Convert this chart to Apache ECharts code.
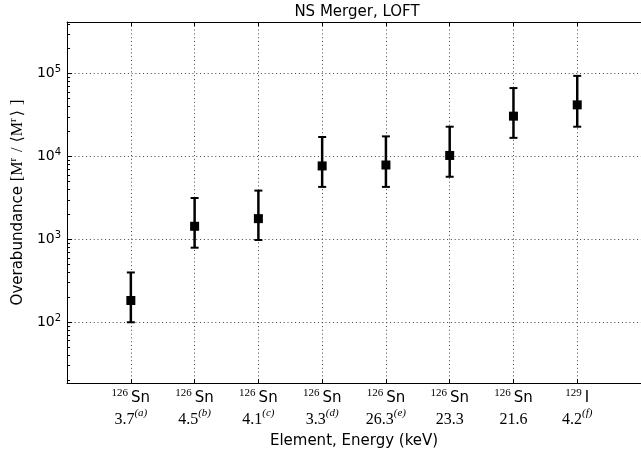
<!DOCTYPE html>
<html>
<head>
<meta charset="utf-8">
<script src="https://cdn.jsdelivr.net/npm/echarts@6/dist/echarts.min.js"></script>
<style>
html,body{margin:0;padding:0;background:#fff;}
#chart{width:641px;height:459px;}
</style>
</head>
<body>
<div id="chart"></div>
<script>
// ---- data ----
const positions = [1, 2, 3, 4, 5, 6, 7, 8];
const isotopes = ['126', '126', '126', '126', '126', '126', '126', '129'];
const elements = ['Sn', 'Sn', 'Sn', 'Sn', 'Sn', 'Sn', 'Sn', 'I'];
const energies = ['3.7', '4.5', '4.1', '3.3', '26.3', '23.3', '21.6', '4.2'];
const notes = ['(a)', '(b)', '(c)', '(d)', '(e)', '', '', '(f)'];
const values = [183, 1440, 1780, 7700, 7900, 10300, 30700, 42000];
const lowerErr = [100, 794, 984, 4300, 4300, 5700, 16800, 22900];
const upperErr = [399, 3160, 3880, 17200, 17500, 22900, 67000, 94000];
const yMajorTicks = [100, 1000, 10000, 100000];
const yMinorTicks = [];
[10, 100, 1000, 10000, 100000].forEach(function (d) {
  for (let k = 2; k <= 9; k++) yMinorTicks.push(k * d);
});

const SANS = 'DejaVu Sans';
const SERIF = 'Liberation Serif';

const pointData = positions.map((p, i) => [p, values[i]]);
const errData = positions.map((p, i) => [p, lowerErr[i], upperErr[i]]);

const chart = echarts.init(document.getElementById('chart'), null, {renderer: 'canvas'});
const yMin = 18.5, yMax = 420000;
const gridDash = {color: '#444', width: 1, type: [1, 2.8]};

const option = {
  animation: false,
  backgroundColor: '#fff',
  title: {
    text: 'NS Merger, LOFT',
    left: 352,
    textAlign: 'center',
    top: 0,
    textStyle: {fontFamily: SANS, fontSize: 15, fontWeight: 'normal', color: '#000'}
  },
  grid: {left: 65, top: 22, width: 579, height: 361, containLabel: false},
  xAxis: [{
    type: 'value',
    min: 0, max: 9, interval: 1,
    position: 'bottom',
    name: 'Element, Energy (keV)',
    nameLocation: 'middle',
    nameGap: 51,
    nameTextStyle: {fontFamily: SANS, fontSize: 15, color: '#000'},
    axisLine: {show: true, lineStyle: {color: '#000', width: 1}},
    axisTick: {show: true, inside: true, length: 4, customValues: positions, lineStyle: {color: '#000'}},
    splitLine: {show: true, lineStyle: gridDash},
    axisLabel: {
      customValues: positions,
      margin: 5,
      formatter: function (v) {
        const i = positions.indexOf(Math.round(v));
        if (i < 0) return '';
        let s = '{iso|' + isotopes[i] + '}{el|' + elements[i] + '}\n{num|' + energies[i] + '}';
        if (notes[i]) s += '{note|' + notes[i] + '}';
        return s;
      },
      rich: {
        iso: {fontFamily: SERIF, fontSize: 11, color: '#000', verticalAlign: 'top', lineHeight: 20, padding: [0, 3, 0, 0]},
        el: {fontFamily: SANS, fontSize: 15, color: '#000', lineHeight: 20},
        num: {fontFamily: SERIF, fontSize: 16, color: '#000', lineHeight: 23},
        note: {fontFamily: SERIF, fontStyle: 'italic', fontSize: 11, color: '#000', verticalAlign: 'top', lineHeight: 23}
      }
    }
  }, {
    type: 'value',
    min: 0, max: 9, interval: 1,
    position: 'top',
    axisLine: {show: true, lineStyle: {color: '#000', width: 1}},
    axisTick: {show: true, inside: true, length: 4, customValues: positions, lineStyle: {color: '#000'}},
    splitLine: {show: false},
    axisLabel: {show: false}
  }],
  yAxis: [{
    type: 'log',
    logBase: 10,
    min: yMin, max: yMax,
    position: 'left',
    name: '{a|Overabundance }{b|[M}{s|r}{b| /}{w| ⟨}{b|M}{s|r}{w|⟩ }{b|]}',
    nameLocation: 'middle',
    nameGap: 36,
    nameTextStyle: {
      color: '#000',
      rich: {
        a: {fontFamily: SANS, fontSize: 15, color: '#000', lineHeight: 20},
        b: {fontFamily: SERIF, fontSize: 16, color: '#000', lineHeight: 20},
        w: {fontFamily: 'DejaVu Serif', fontSize: 16, color: '#000', lineHeight: 20},
        s: {fontFamily: SERIF, fontSize: 11, color: '#000', verticalAlign: 'top', lineHeight: 20, padding: [0, 2, 0, 0]}
      }
    },
    axisLine: {show: true, lineStyle: {color: '#000', width: 1}},
    axisTick: {show: true, inside: true, length: 5, customValues: yMajorTicks, lineStyle: {color: '#000'}},
    splitLine: {show: true, lineStyle: gridDash},
    axisLabel: {
      customValues: yMajorTicks,
      margin: 6,
      formatter: function (v) {
        const e = Math.round(Math.log10(v));
        return '{b|10}{e|' + e + '}';
      },
      rich: {
        b: {fontFamily: SANS, fontSize: 14, color: '#000', lineHeight: 18},
        e: {fontFamily: SANS, fontSize: 10, color: '#000', verticalAlign: 'top', lineHeight: 18}
      }
    }
  }, {
    type: 'log',
    logBase: 10,
    min: yMin, max: yMax,
    position: 'left',
    offset: 0,
    axisLine: {show: false},
    axisTick: {show: true, inside: true, length: 3, customValues: yMinorTicks, lineStyle: {color: '#000'}},
    splitLine: {show: false},
    axisLabel: {show: false}
  }],
  series: [{
    type: 'custom',
    xAxisIndex: 0, yAxisIndex: 0,
    data: errData,
    encode: {x: 0, y: [1, 2]},
    z: 3,
    renderItem: function (params, api) {
      const x = api.value(0);
      const lo = api.coord([x, api.value(1)]);
      const hi = api.coord([x, api.value(2)]);
      const cw = 4;
      const st = {stroke: '#000', lineWidth: 2.5};
      const cs = {stroke: '#000', lineWidth: 2};
      return {
        type: 'group',
        children: [
          {type: 'line', shape: {x1: lo[0], y1: lo[1], x2: hi[0], y2: hi[1]}, style: st},
          {type: 'line', shape: {x1: lo[0] - cw, y1: lo[1], x2: lo[0] + cw, y2: lo[1]}, style: cs},
          {type: 'line', shape: {x1: hi[0] - cw, y1: hi[1], x2: hi[0] + cw, y2: hi[1]}, style: cs}
        ]
      };
    }
  }, {
    type: 'scatter',
    xAxisIndex: 0, yAxisIndex: 0,
    data: pointData,
    symbol: 'rect',
    symbolSize: 9,
    itemStyle: {color: '#000', opacity: 1},
    z: 4
  }]
};
chart.setOption(option);
</script>
</body>
</html>
